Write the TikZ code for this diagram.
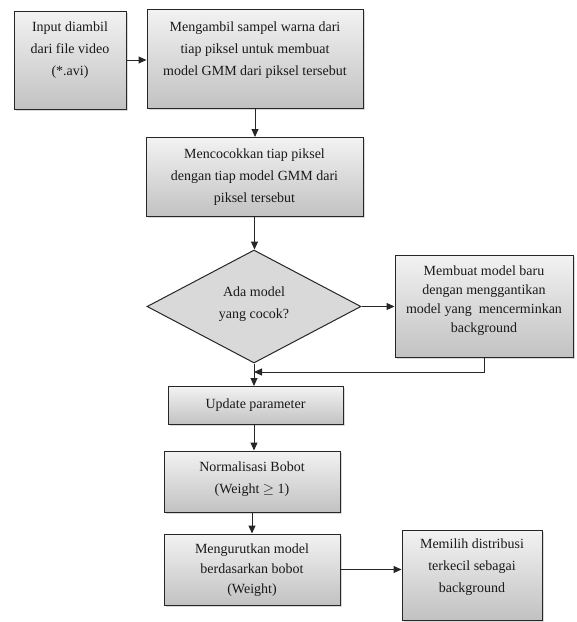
\documentclass[tikz,border=0pt]{standalone}
\usepackage{fontspec}
\setmainfont{Liberation Serif}
\usetikzlibrary{shapes.geometric,shadows,arrows.meta}
\begin{document}
\begin{tikzpicture}[x=1pt,y=-1pt,
  box/.style={draw=black!85, line width=1pt, top color=gray!10, bottom color=gray!48,
    drop shadow={shadow xshift=1.5pt,shadow yshift=-1.5pt,opacity=0.3}, inner sep=0pt},
  txt/.style={align=center, inner sep=0pt, font=\fontsize{14}{22}\selectfont, text=black!90},
  dia/.style={draw=black!85, line width=1pt, diamond, fill=gray!30, inner sep=0pt},
  arr/.style={-{Triangle[length=8pt,width=7pt]}, line width=1pt, draw=black!85}]
\useasboundingbox (0,0) rectangle (577,622);

\node[box, minimum width=112pt, minimum height=98pt] (in1) at (70,60) {};
\node[txt] (in1t) at (70,50) {Input diambil\\dari file video\\(*.avi)};

\node[box, minimum width=216pt, minimum height=99pt] (b2) at (255,58.5) {};
\node[txt] (b2t) at (255,50) {Mengambil sampel warna dari\\tiap piksel untuk membuat\\model GMM dari piksel tersebut};

\node[box, minimum width=217pt, minimum height=79pt] (b3) at (254.5,177) {};
\node[txt] (b3t) at (254.5,177) {Mencocokkan tiap piksel\\dengan tiap model GMM dari\\piksel tersebut};

\node[dia, minimum width=214pt, minimum height=113pt] (d) at (254,306.5) {};
\node[txt] (dt) at (254,304) {Ada model\\yang cocok?};

\node[box, minimum width=178pt, minimum height=102pt] (b5) at (484,306) {};
\node[txt, font=\fontsize{14}{19}\selectfont] (b5t) at (484,301) {Membuat model baru\\dengan menggantikan\\model yang\ \ mencerminkan\\background};

\node[box, minimum width=175pt, minimum height=38pt] (upd) at (255.5,405.5) {};
\node[txt] (updt) at (255.5,405.5) {Update parameter};

\node[box, minimum width=176pt, minimum height=61pt] (norm) at (252,481.5) {};
\node[txt] (normt) at (252,479) {Normalisasi Bobot\\(Weight \(\geq\) 1)};

\node[box, minimum width=176pt, minimum height=71pt] (urut) at (252,569.5) {};
\node[txt, font=\fontsize{14}{20}\selectfont] (urutt) at (252,570) {Mengurutkan model\\berdasarkan bobot\\(Weight)};

\node[box, minimum width=140pt, minimum height=90pt] (mem) at (472,575) {};
\node[txt] (memt) at (472,567) {Memilih distribusi\\terkecil sebagai\\background};

\coordinate (j) at (254,372);

\draw[arr] (in1.east) -- (in1.east -| b2.west);
\draw[arr] (b2.south) -- (b2.south |- b3.north);
\draw[arr] (b3.south) -- (b3.south |- d.north);
\draw[arr] (d.east) -- (d.east -| b5.west);
\draw[arr] (b5.south) |- (j);
\draw[arr] (d.south) -- (d.south |- upd.north);
\draw[arr] ([xshift=2pt]upd.south -| norm.north) -- ([xshift=2pt]norm.north);
\draw[arr] (norm.south) -- (urut.north);
\draw[arr] (urut.east) -- (urut.east -| mem.west);
\end{tikzpicture}
\end{document}
